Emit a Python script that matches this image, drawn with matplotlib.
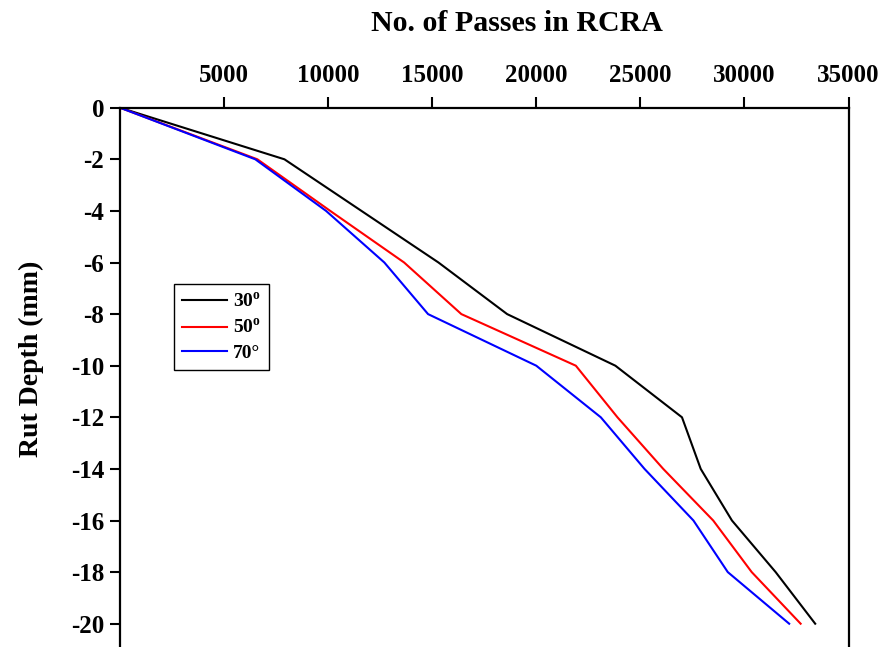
import matplotlib
matplotlib.use("Agg")
from matplotlib import pyplot as plt

# rut depth levels (mm)
depth = [0, -2, -4, -6, -8, -10, -12, -14, -16, -18, -20]

# no. of passes for each tyre angle
passes_30 = [0, 7900, 11600, 15300, 18600, 23800, 27000, 27900, 29400, 31500, 33400]
passes_50 = [0, 6600, 10100, 13650, 16400, 21900, 23900, 26100, 28500, 30350, 32700]
passes_70 = [0, 6500, 9900, 12700, 14800, 20000, 23100, 25200, 27550, 29200, 32150]

labels = ["30$^{\\mathbf{o}}$", "50$^{\\mathbf{o}}$", "70\u00b0"]
colors = ["black", "red", "blue"]
xticks = [5000, 10000, 15000, 20000, 25000, 30000, 35000]
yticks = [0, -2, -4, -6, -8, -10, -12, -14, -16, -18, -20]

plt.rcParams["font.family"] = ["Liberation Serif", "DejaVu Serif"]
plt.rcParams["font.weight"] = "bold"
plt.rcParams["mathtext.fontset"] = "custom"
plt.rcParams["mathtext.rm"] = "Liberation Serif:bold"
plt.rcParams["mathtext.bf"] = "Liberation Serif:bold"


def main():
    fig = plt.figure(figsize=(8.82, 6.47), dpi=100)
    ax = fig.add_axes([120 / 882, -2.5 / 647, 728.5 / 882, 541.8 / 647])

    for xs, lab, col in zip([passes_30, passes_50, passes_70], labels, colors):
        ax.plot(xs, depth, color=col, lw=1.5, label=lab)

    ax.set_xlim(0, 35000)
    ax.set_ylim(-21, 0)
    ax.xaxis.tick_top()
    ax.set_xticks(xticks)
    ax.set_yticks(yticks)
    ax.set_yticklabels([str(v) for v in yticks])
    ax.tick_params(axis="x", direction="out", length=8, width=1.5, labelsize=18, pad=7)
    ax.tick_params(axis="y", direction="out", length=7.5, width=1.5, labelsize=18, pad=4)
    for s in ax.spines.values():
        s.set_linewidth(1.6)

    fig.text(517 / 882, 1 - 31 / 647, "No. of Passes in RCRA", ha="center", va="baseline",
             fontsize=21.5, fontweight="bold")
    fig.text(31 / 882, 1 - 359 / 647, "Rut Depth (mm)", ha="center", va="center",
             rotation=90, fontsize=20, fontweight="bold")

    leg = ax.legend(loc="upper left", bbox_to_anchor=(174 / 882, 1 - 284 / 647),
                    bbox_transform=fig.transFigure, borderaxespad=0, fontsize=14,
                    handlelength=2.3, handletextpad=0.35, borderpad=0.4,
                    labelspacing=0.35, fancybox=False, framealpha=1,
                    edgecolor="black")
    leg.get_frame().set_linewidth(1.0)

    fig.savefig("out.png", dpi=100)


if __name__ == "__main__":
    main()
